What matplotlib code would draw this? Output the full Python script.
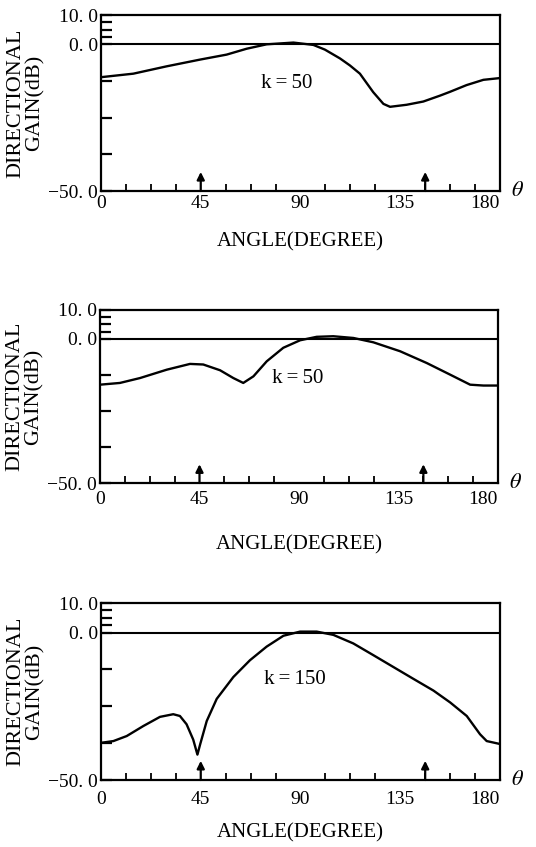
import numpy as np
import matplotlib; matplotlib.use("Agg"); import matplotlib.pyplot as plt

plt.rcParams['font.family'] = ['Liberation Serif', 'DejaVu Serif']
plt.rcParams['mathtext.fontset'] = 'stix'

# panel 1 : k=50, main lobe ~85 deg
ang1 = [0, 14.6, 29.6, 44.7, 56.7, 65.7, 74.7, 86.8, 95.8, 101.0, 107.8, 112.3, 116.8,
        122.8, 127.4, 130.4, 137.9, 145.4, 152.9, 157.4, 164.9, 172.5, 180]
gain1 = [-11.2, -10.0, -7.5, -5.2, -3.5, -1.5, 0.0, 0.6, -0.2, -1.8, -4.8, -7.2, -10.0,
         -16.3, -20.3, -21.3, -20.6, -19.5, -17.5, -16.2, -13.9, -12.1, -11.5]
# panel 2 : k=50, notch ~64 deg
ang2 = [0, 9.0, 18.1, 30.2, 40.7, 46.7, 54.3, 60.3, 64.8, 69.4, 75.4, 82.9, 90.5, 98.0,
        105.5, 114.6, 123.6, 135.7, 147.8, 158.3, 167.4, 173.4, 180]
gain2 = [-15.9, -15.3, -13.6, -10.7, -8.7, -8.9, -10.9, -13.6, -15.3, -13.0, -7.8, -3.1,
         -0.5, 0.7, 0.9, 0.3, -1.2, -4.3, -8.4, -12.4, -15.9, -16.2, -16.2]
# panel 3 : k=150, null ~43 deg
ang3 = [0, 5.6, 11.6, 19.1, 26.6, 32.6, 35.6, 38.6, 41.6, 43.5, 44.7, 47.7, 52.2, 59.7,
        67.2, 74.7, 82.3, 89.8, 97.3, 104.8, 113.8, 122.9, 131.9, 140.9, 150.0, 157.5,
        165.0, 171.0, 174.0, 180]
gain3 = [-37.4, -36.8, -35.1, -31.7, -28.6, -27.7, -28.3, -31.1, -36.3, -41.4, -38.0,
         -30.0, -22.5, -15.1, -9.4, -4.8, -1.1, 0.3, 0.3, -0.8, -3.7, -7.7, -11.7, -15.7,
         -19.7, -23.7, -28.3, -34.5, -36.8, -37.8]

panels = [(ang1, gain1, "k\u2009=\u200950", (83.7, -13.3)),
          (ang2, gain2, "k\u2009=\u200950", (89.6, -13.9)),
          (ang3, gain3, "k\u2009=\u2009150", (87.5, -16.0))]
arrow_angles = [45, 146.25]
xtick_vals = [0, 45, 90, 135, 180]
xtick_labels = ["0", "45", "90", "135", "180"]
ytick_vals = [10, 0, -12.5, -25, -37.5, -50]
ytick_labels = ["10. 0", "0. 0", "", "", "", "\u221250. 0"]

W, H = 536, 847
# axes boxes in pixels: left, top, right, bottom
boxes = [(101, 15, 500, 191), (100, 310, 498, 483), (101, 603, 500, 780)]
xpads = [3, 6, 8]
xlab_off = [51, 62, 53]

fig = plt.figure(figsize=(W/100, H/100), dpi=100)
for (ang, gain, lab, lpos), (l, t, r, b), xp, xo in zip(panels, boxes, xpads, xlab_off):
    ax = fig.add_axes([l/W, 1-b/H, (r-l)/W, (b-t)/H])
    ax.plot(ang, gain, color='black', lw=1.7, solid_joinstyle='round')
    ax.axhline(0, color='black', lw=1.5)
    ax.set_xlim(0, 180); ax.set_ylim(-50, 10)
    for s in ax.spines.values():
        s.set_linewidth(1.6)
    ax.set_xticks(xtick_vals); ax.set_xticklabels(xtick_labels)
    ax.xaxis.get_ticklabels()[-1].set_ha('right')
    ax.set_xticks(np.arange(0, 181, 11.25), minor=True)
    ax.tick_params(axis='x', which='major', length=0, pad=xp, labelsize=14)
    ax.tick_params(axis='x', which='minor', direction='in', length=5, width=1.3)
    ax.set_yticks(ytick_vals); ax.set_yticklabels(ytick_labels)
    ax.set_yticks([7.5, 5, 2.5], minor=True)
    ax.tick_params(axis='y', which='both', direction='in', length=8, width=1.6,
                   labelsize=14, pad=2)
    for a in arrow_angles:
        ax.annotate('', xy=(a, -43.5), xytext=(a, -50),
                    arrowprops=dict(arrowstyle='-|>', color='black', lw=1.6,
                                    mutation_scale=11, shrinkA=0, shrinkB=0))
    ax.text(lpos[0], lpos[1], lab, ha='center', va='center', fontsize=15)
    ax.text(-0.19, 0.5, "DIRECTIONAL\nGAIN(dB)", transform=ax.transAxes, rotation=90,
            ha='center', va='center', fontsize=16, linespacing=1.0)
    ax.text(0.5, -xo/(b-t), "ANGLE(DEGREE)", transform=ax.transAxes,
            ha='center', va='center', fontsize=15)
    ax.text(1.043, 0.0, r"$\theta$", transform=ax.transAxes, ha='center', va='center',
            fontsize=16)

fig.savefig("out.png", dpi=100)
